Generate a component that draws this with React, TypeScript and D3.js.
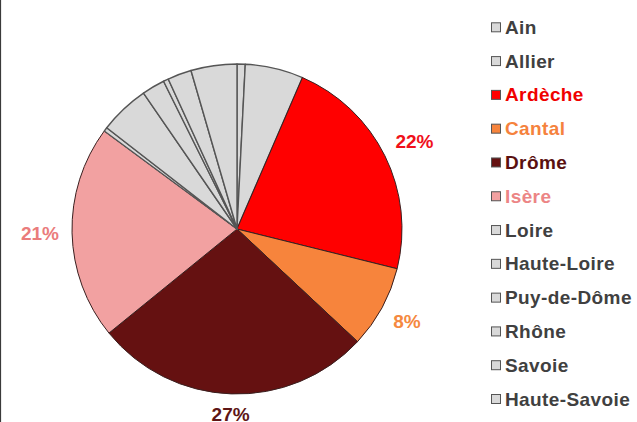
import React from "react";
import * as d3 from "d3";

const departements = [
  "Ain",
  "Allier",
  "Ardèche",
  "Cantal",
  "Drôme",
  "Isère",
  "Loire",
  "Haute-Loire",
  "Puy-de-Dôme",
  "Rhône",
  "Savoie",
  "Haute-Savoie",
];

const parts = [0.8, 5.7, 22.4, 8.1, 27.2, 21.0, 0.4, 4.9, 2.25, 0.5, 2.35, 4.5];

const sliceColors = [
  "#d9d9d9",
  "#d9d9d9",
  "#ff0000",
  "#f7843c",
  "#651111",
  "#f2a1a1",
  "#d9d9d9",
  "#d9d9d9",
  "#d9d9d9",
  "#d9d9d9",
  "#d9d9d9",
  "#d9d9d9",
];

const legendTextColors = [
  "#404040",
  "#404040",
  "#f00000",
  "#f5823d",
  "#5a1010",
  "#ec8585",
  "#404040",
  "#404040",
  "#404040",
  "#404040",
  "#404040",
  "#404040",
];

const labelColors = [null, null, "#f0101a", "#f5893f", "#5e1515", "#ea7c7c", null, null, null, null, null, null];
const labelTexts = [null, null, "22%", "8%", "27%", "21%", null, null, null, null, null, null];

const W = 637;
const H = 422;
const cx = 237;
const cy = 229;
const R = 165;
const font = "'Liberation Sans', Arial, sans-serif";
const labelSize = 19;

export default function App() {
  const pie = d3
    .pie<number>()
    .sort(null)
    .value((d) => d)
    .startAngle(0)
    .endAngle(2 * Math.PI);
  const arcs = pie(parts);
  const arc = d3.arc<d3.PieArcDatum<number>>().innerRadius(0).outerRadius(R);

  const legendY = d3.scalePoint<string>().domain(departements).range([27.3, 399]);

  const textWidth = (t: string) =>
    t.split("").reduce((s, c) => s + (c === "%" ? 0.889 : 0.556), 0) * labelSize;

  return (
    <svg
      width={W}
      height={H}
      style={{ position: "fixed", left: 0, top: 0, background: "#fff" }}
      fontFamily={font}
    >
      <rect x={0} y={0} width={W} height={H} fill="#ffffff" />
      <line x1={0.5} y1={0} x2={0.5} y2={H} stroke="#3a3a3a" strokeWidth={1.2} />
      <g transform={`translate(${cx},${cy})`}>
        {arcs.map((a, i) => (
          <path
            key={departements[i]}
            d={arc(a) || ""}
            fill={sliceColors[i]}
            stroke={sliceColors[i] === "#d9d9d9" ? "#555555" : "#3a2020"}
            strokeWidth={sliceColors[i] === "#d9d9d9" ? 1.4 : 1}
            strokeLinejoin="round"
          />
        ))}
        {arcs.map((a, i) => {
          const t = labelTexts[i];
          if (!t) return null;
          const mid = (a.startAngle + a.endAngle) / 2;
          const s = Math.sin(mid);
          const c = -Math.cos(mid);
          const w = textWidth(t);
          const h = labelSize * 0.72;
          const ext = Math.abs(s) * (w / 2) + Math.abs(c) * (h / 2);
          const r = R + 13 + ext;
          return (
            <text
              key={"l" + i}
              x={s * r}
              y={c * r}
              textAnchor="middle"
              dominantBaseline="central"
              fontSize={labelSize}
              fontWeight="bold"
              fill={labelColors[i] || "#404040"}
            >
              {t}
            </text>
          );
        })}
      </g>
      <g>
        {departements.map((d, i) => {
          const y = legendY(d) as number;
          return (
            <g key={"lg" + d}>
              <rect
                x={491.5}
                y={y - 4.5}
                width={9}
                height={9}
                fill={sliceColors[i]}
                stroke="#555555"
                strokeWidth={1}
              />
              <text
                x={505}
                y={y}
                dominantBaseline="central"
                fontSize={19}
                fontWeight="bold"
                letterSpacing={0.4}
                fill={legendTextColors[i]}
              >
                {d}
              </text>
            </g>
          );
        })}
      </g>
    </svg>
  );
}
